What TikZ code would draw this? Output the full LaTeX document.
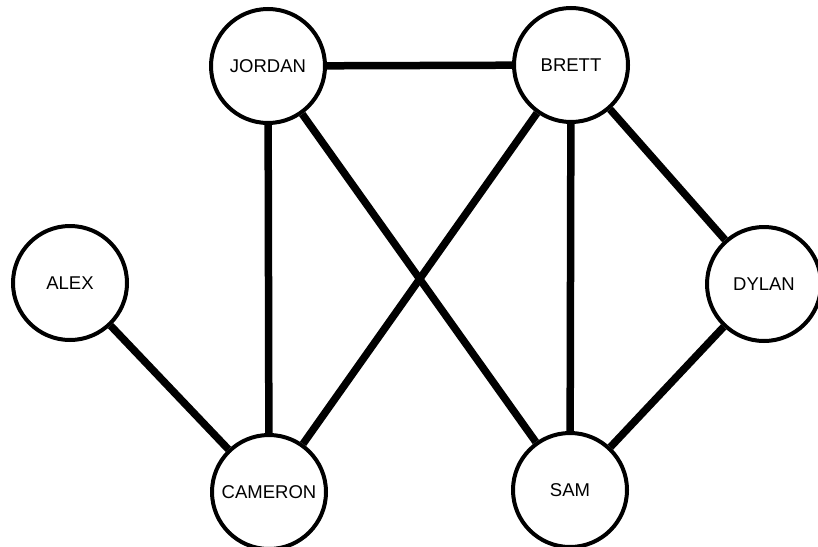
\documentclass[tikz,border=0pt]{standalone}
\usepackage{fontspec}
\setmainfont{Liberation Sans}
\begin{document}
\begin{tikzpicture}[x=1pt,y=-1pt,
  person/.style={circle,draw=black,fill=white,line width=4pt,minimum size=114pt,inner sep=0pt,font=\fontsize{18.5}{20}\selectfont},
  link/.style={line width=7.5pt,black}]
\useasboundingbox (0,0) rectangle (818,546);
\node[person] (jordan) at (268,66) {JORDAN};
\node[person] (brett) at (571,65) {BRETT};
\node[person] (alex) at (70,283) {ALEX};
\node[person] (dylan) at (764,284) {DYLAN};
\node[person] (cameron) at (269,492) {CAMERON};
\node[person] (sam) at (570,490) {SAM};
\draw[link] (jordan) -- (brett);
\draw[link] (jordan) -- (cameron);
\draw[link] (jordan) -- (sam);
\draw[link] (brett) -- (cameron);
\draw[link] (brett) -- (sam);
\draw[link] (brett) -- (dylan);
\draw[link] (dylan) -- (sam);
\draw[link] (alex) -- (cameron);
\end{tikzpicture}
\end{document}
